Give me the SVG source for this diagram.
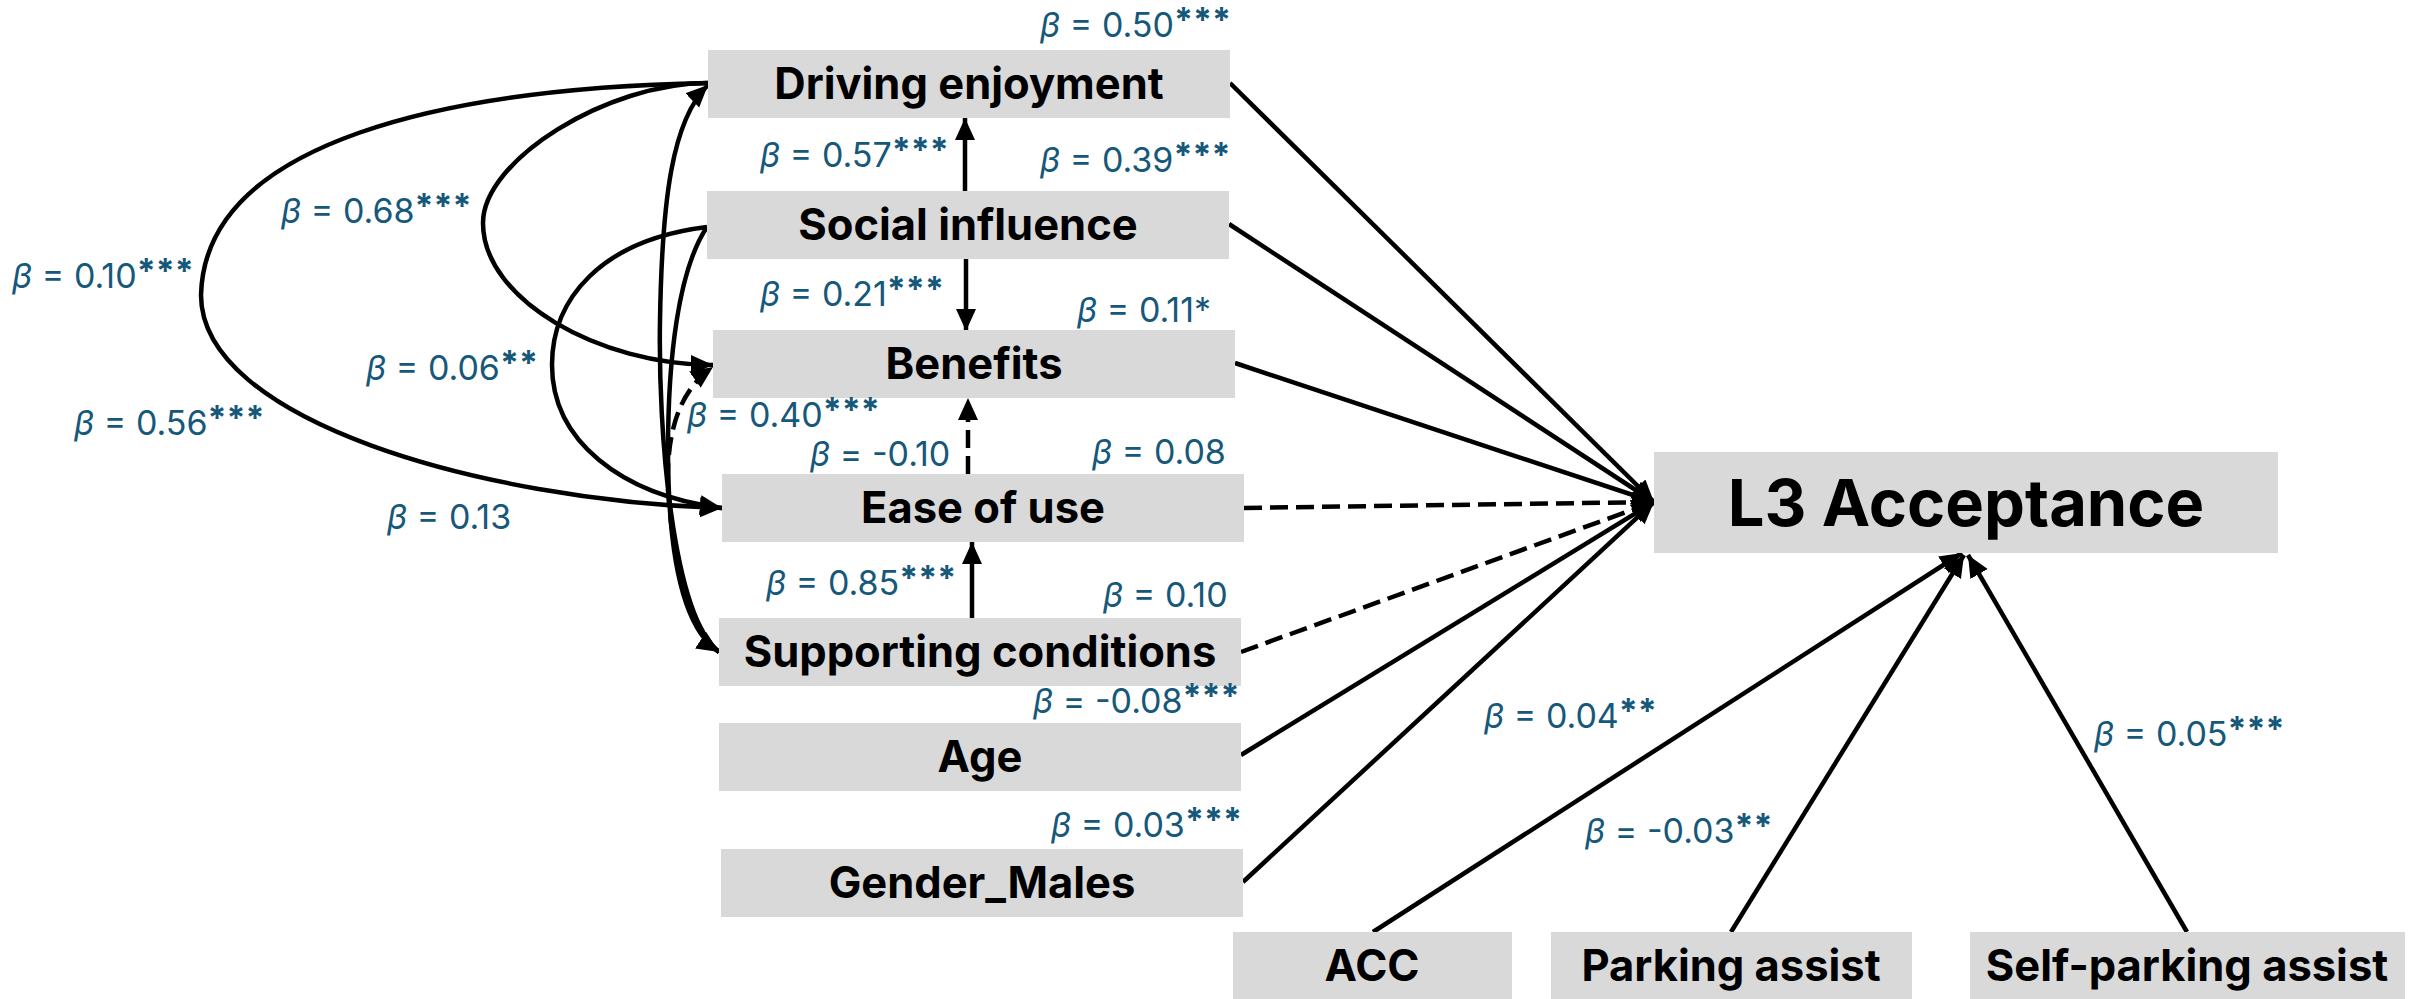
<svg xmlns="http://www.w3.org/2000/svg" width="2419" height="999" viewBox="0 0 2419 999">
<style>
.box{fill:#d9d9d9}
.nt{font-family:Inter,"Liberation Sans",sans-serif;font-weight:bold;font-size:43.5px;fill:#000;text-anchor:middle}
.big{font-size:65px}
.lb{font-family:Inter,"Liberation Sans",sans-serif;font-size:34px;fill:#16587a}
.lb .b{font-style:italic}
.lb .s{font-weight:bold}
.c{fill:none;stroke:#000;stroke-width:4.5}
.d{stroke-dasharray:18 8}
</style>
<defs>
<marker id="ah" markerUnits="userSpaceOnUse" markerWidth="24" markerHeight="22" refX="22" refY="10" orient="auto">
<path d="M0,0 L22,10 L0,20 z" fill="#000"/>
</marker>
</defs>
<g id="connectors">
<path class="c" d="M708,83 C450,88 205,140 201,295 C201,420 480,500 722,508" stroke-width="5.5" marker-end="url(#ah)"/>
<path class="c" d="M708,83 C607,83 483,160 483,223 C483,300 600,365 713,365" marker-end="url(#ah)"/>
<path class="c" d="M707,227 C600,240 552,300 552,365 C552,440 620,495 722,508" marker-end="url(#ah)"/>
<path class="c" d="M719,652 C672,615 658,430 660,320 C662,200 672,120 708,85" marker-end="url(#ah)"/>
<path class="c" d="M707,227 C678,270 668,360 668,450 C668,560 685,630 719,652" marker-end="url(#ah)"/>
<path class="c d" d="M719,652 C692,630 672,560 668,490 C666,430 680,390 713,367" marker-end="url(#ah)"/>
<path class="c" d="M965,193 L965,118" marker-end="url(#ah)"/>
<path class="c" d="M966,257 L966,331" marker-end="url(#ah)"/>
<path class="c d" d="M968,474 L968,398" marker-end="url(#ah)"/>
<path class="c" d="M972,619 L972,542" marker-end="url(#ah)"/>
<path class="c" d="M1230,83 L1654,502" marker-end="url(#ah)"/>
<path class="c" d="M1229,224 L1654,502" marker-end="url(#ah)"/>
<path class="c" d="M1235,363 L1654,502" stroke-width="6" marker-end="url(#ah)"/>
<path class="c d" d="M1244,508 L1654,502" stroke-width="6" marker-end="url(#ah)"/>
<path class="c d" d="M1241,652 L1654,502" stroke-width="6" marker-end="url(#ah)"/>
<path class="c" d="M1241,755 L1654,502" stroke-width="5" marker-end="url(#ah)"/>
<path class="c" d="M1243,882 L1654,502" stroke-width="5" marker-end="url(#ah)"/>
<path class="c" d="M1373,932 L1962,553" stroke-width="5" marker-end="url(#ah)"/>
<path class="c" d="M1731,932 L1964,555" stroke-width="5" marker-end="url(#ah)"/>
<path class="c" d="M2187,932 L1968,555" stroke-width="5" marker-end="url(#ah)"/>
</g>
<g id="node-driving-enjoyment"><rect class="box" x="708" y="50" width="522" height="68"/><text class="nt" x="969" y="99">Driving enjoyment</text></g>
<g id="node-social-influence"><rect class="box" x="707" y="191" width="522" height="68"/><text class="nt" x="968" y="240">Social influence</text></g>
<g id="node-benefits"><rect class="box" x="713" y="330" width="522" height="68"/><text class="nt" x="974" y="379">Benefits</text></g>
<g id="node-ease-of-use"><rect class="box" x="722" y="474" width="522" height="68"/><text class="nt" x="983" y="523">Ease of use</text></g>
<g id="node-supporting-conditions"><rect class="box" x="719" y="618" width="522" height="68"/><text class="nt" x="980" y="667">Supporting conditions</text></g>
<g id="node-age"><rect class="box" x="719" y="723" width="522" height="68"/><text class="nt" x="980" y="772">Age</text></g>
<g id="node-gender-males"><rect class="box" x="721" y="849" width="522" height="68"/><text class="nt" x="982" y="898">Gender_Males</text></g>
<g id="node-l3-acceptance"><rect class="box" x="1654" y="452" width="624" height="101"/><text class="nt big" x="1966" y="526">L3 Acceptance</text></g>
<g id="node-acc"><rect class="box" x="1233" y="932" width="279" height="80"/><text class="nt" x="1372" y="981">ACC</text></g>
<g id="node-parking-assist"><rect class="box" x="1551" y="932" width="361" height="80"/><text class="nt" x="1731" y="981">Parking assist</text></g>
<g id="node-self-parking-assist"><rect class="box" x="1970" y="932" width="435" height="80"/><text class="nt" x="2187" y="981">Self-parking assist</text></g>
<g id="labels">
<text class="lb" x="1040" y="37"><tspan class="b">β</tspan> = 0.50<tspan class="s" dy="-5">***</tspan></text>
<text class="lb" x="760" y="167"><tspan class="b">β</tspan> = 0.57<tspan class="s" dy="-5">***</tspan></text>
<text class="lb" x="1040" y="172"><tspan class="b">β</tspan> = 0.39<tspan class="s" dy="-5">***</tspan></text>
<text class="lb" x="760" y="306"><tspan class="b">β</tspan> = 0.21<tspan class="s" dy="-5">***</tspan></text>
<text class="lb" x="1077" y="322"><tspan class="b">β</tspan> = 0.11*</text>
<text class="lb" x="687" y="427"><tspan class="b">β</tspan> = 0.40<tspan class="s" dy="-5">***</tspan></text>
<text class="lb" x="810" y="466"><tspan class="b">β</tspan> = -0.10</text>
<text class="lb" x="1092" y="464"><tspan class="b">β</tspan> = 0.08</text>
<text class="lb" x="766" y="595"><tspan class="b">β</tspan> = 0.85<tspan class="s" dy="-5">***</tspan></text>
<text class="lb" x="1103" y="607"><tspan class="b">β</tspan> = 0.10</text>
<text class="lb" x="1033" y="713"><tspan class="b">β</tspan> = -0.08<tspan class="s" dy="-5">***</tspan></text>
<text class="lb" x="1051" y="837"><tspan class="b">β</tspan> = 0.03<tspan class="s" dy="-5">***</tspan></text>
<text class="lb" x="281" y="223"><tspan class="b">β</tspan> = 0.68<tspan class="s" dy="-5">***</tspan></text>
<text class="lb" x="12" y="288"><tspan class="b">β</tspan> = 0.10<tspan class="s" dy="-5">***</tspan></text>
<text class="lb" x="74" y="435"><tspan class="b">β</tspan> = 0.56<tspan class="s" dy="-5">***</tspan></text>
<text class="lb" x="366" y="380"><tspan class="b">β</tspan> = 0.06<tspan class="s" dy="-5">**</tspan></text>
<text class="lb" x="387" y="529"><tspan class="b">β</tspan> = 0.13</text>
<text class="lb" x="1484" y="728"><tspan class="b">β</tspan> = 0.04<tspan class="s" dy="-5">**</tspan></text>
<text class="lb" x="1585" y="843"><tspan class="b">β</tspan> = -0.03<tspan class="s" dy="-5">**</tspan></text>
<text class="lb" x="2094" y="746"><tspan class="b">β</tspan> = 0.05<tspan class="s" dy="-5">***</tspan></text>
</g>
</svg>
